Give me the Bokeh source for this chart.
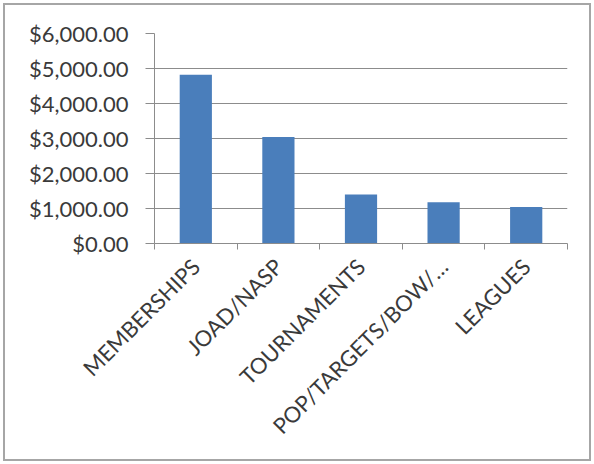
from bokeh.plotting import figure
from bokeh.models import FixedTicker, NumeralTickFormatter, Range1d
from bokeh.embed import file_html
from bokeh.resources import INLINE
import math

categories = ["MEMBERSHIPS", "JOAD/NASP", "TOURNAMENTS", "POP/TARGETS/BOW/…", "LEAGUES"]
values = [4820, 3040, 1400, 1180, 1040]
y_ticks = [0, 1000, 2000, 3000, 4000, 5000, 6000]

n = len(categories)
centers = [i + 0.5 for i in range(n)]
bounds = list(range(n + 1))

FONT = "Lato"
TXT = "#3a3a3a"
GRID = "#8c8c8c"

p = figure(width=584, height=454, output_backend="svg", toolbar_location=None,
           x_range=Range1d(0, n), y_range=Range1d(0, 6000),
           min_border_left=149, min_border_right=22, min_border_top=28, min_border_bottom=216)
p.styles = {"margin": "5px 0 0 5px", "box-shadow": "0 0 0 2px #a6a6a6"}
p.outline_line_color = None
p.background_fill_color = "white"
p.border_fill_color = "white"

p.vbar(x=centers, top=values, width=0.39, bottom=0, color="#4a7ebb", line_color=None)

# y axis
p.yaxis.ticker = FixedTicker(ticks=y_ticks)
p.yaxis.formatter = NumeralTickFormatter(format="$0,0.00")
p.yaxis.axis_line_color = GRID
p.yaxis.major_tick_line_color = GRID
p.yaxis.major_tick_in = 0
p.yaxis.major_tick_out = 9
p.yaxis.minor_tick_line_color = None
p.yaxis.major_label_standoff = 17
p.yaxis.major_label_text_font = FONT
p.yaxis.major_label_text_font_size = "22px"
p.yaxis.major_label_text_color = TXT

# x axis
p.xaxis.ticker = FixedTicker(ticks=centers, minor_ticks=bounds)
p.xaxis.major_label_overrides = {c: lab for c, lab in zip(centers, categories)}
p.xaxis.major_tick_line_color = None
p.xaxis.minor_tick_line_color = GRID
p.xaxis.minor_tick_in = 0
p.xaxis.minor_tick_out = 6
p.xaxis.axis_line_color = GRID
p.xaxis.major_label_orientation = math.pi / 4
p.xaxis.major_label_standoff = 13
p.xaxis.major_label_text_font = FONT
p.xaxis.major_label_text_font_size = "22px"
p.xaxis.major_label_text_color = TXT

p.xgrid.grid_line_color = None
p.ygrid.grid_line_color = GRID
p.ygrid.grid_line_width = 1

open("out.html", "w").write(file_html(p, INLINE))
